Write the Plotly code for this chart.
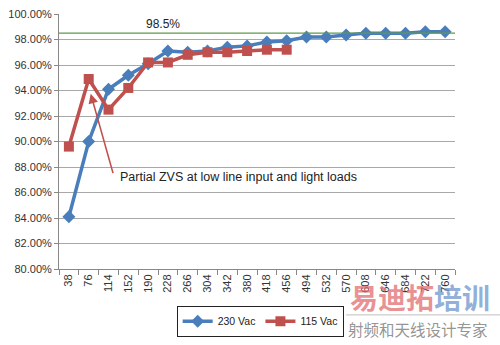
import plotly.graph_objects as go

# Output power levels (W)
power = [38, 76, 114, 152, 190, 228, 266, 304, 342, 380, 418, 456,
         494, 532, 570, 608, 646, 684, 722, 760]
power_labels = [str(p) for p in power]

# Efficiency (%) at high-line input
eff_230 = [84.1, 90.0, 94.1, 95.2, 96.1, 97.1, 97.0, 97.1, 97.4, 97.5, 97.8, 97.9,
           98.2, 98.2, 98.35, 98.5, 98.5, 98.5, 98.6, 98.6]
# Efficiency (%) at low-line input
eff_115 = [89.6, 94.9, 92.5, 94.2, 96.2, 96.2, 96.8, 97.0, 97.0, 97.1, 97.2, 97.2]

target_eff = 98.5
y_ticks = [80, 82, 84, 86, 88, 90, 92, 94, 96, 98, 100]
y_tick_text = ["%.2f%%" % v for v in y_ticks]

FONT = "Arial, Liberation Sans, sans-serif"

fig = go.Figure()
fig.add_trace(go.Scatter(
    x=power_labels, y=eff_230, name="230 Vac", mode="lines+markers",
    line=dict(color="#4a7ebb", width=3.5),
    marker=dict(symbol="diamond", size=10, color="#4a7ebb"),
))
fig.add_trace(go.Scatter(
    x=power_labels[:len(eff_115)], y=eff_115, name="115 Vac", mode="lines+markers",
    line=dict(color="#c0504d", width=3.5),
    marker=dict(symbol="square", size=10, color="#c0504d"),
))

# 98.5 % reference line
fig.add_shape(type="line", xref="paper", x0=0, x1=1, yref="y",
              y0=target_eff, y1=target_eff, line=dict(color="#5f9a4a", width=1.2))
fig.add_annotation(x=0.215, xref="paper", y=target_eff, yref="y", yshift=9,
                   text="98.5%", showarrow=False,
                   font=dict(family=FONT, size=12, color="#222"))

# Callout arrow for the light-load behaviour (tail near the note, head below the 76 W point)
fig.add_annotation(x=1.1, y=93.75, xref="x", yref="y",
                   ax=2.25, ay=87.4, axref="x", ayref="y",
                   text="", showarrow=True, arrowhead=2, arrowsize=1.2,
                   arrowwidth=1.6, arrowcolor="#c0504d")
fig.add_annotation(x=0.15, xref="paper", y=87.2, yref="y", xanchor="left",
                   text="Partial ZVS at low line input and light loads",
                   showarrow=False, font=dict(family=FONT, size=12.5, color="#222"))

# Axis unit label
fig.add_annotation(x=1.03, xref="paper", y=79.0, yref="y", xanchor="left",
                   text="Po/W", showarrow=False,
                   font=dict(family=FONT, size=12, color="#333"))

# Watermark
fig.add_annotation(x=0.73, xref="paper", y=-0.11, yref="paper",
                   xanchor="left", yanchor="middle", showarrow=False,
                   text="<b><span style='color:rgba(226,110,112,0.75)'>易迪拓</span>"
                        "<span style='color:rgba(110,150,205,0.75)'>培训</span></b>",
                   font=dict(family="Noto Sans CJK SC", size=28))
fig.add_shape(type="line", xref="paper", yref="paper", x0=0.725, x1=1.12,
              y0=-0.18, y1=-0.18, line=dict(color="rgba(150,150,150,0.6)", width=1))
fig.add_annotation(x=0.725, xref="paper", y=-0.237, yref="paper",
                   xanchor="left", yanchor="middle", showarrow=False,
                   text="射频和天线设计专家",
                   font=dict(family="Noto Sans CJK SC", size=15.5,
                             color="rgba(120,120,120,0.8)"))

fig.update_layout(
    width=500, height=345,
    margin=dict(l=55, r=45, t=8, b=69),
    paper_bgcolor="white", plot_bgcolor="white",
    font=dict(family=FONT, color="#333"),
    showlegend=True,
    legend=dict(orientation="h", x=0.508, y=-0.205, xanchor="center", yanchor="middle",
                bordercolor="#222", borderwidth=1, bgcolor="white",
                font=dict(family=FONT, size=10.5, color="#222"),
                itemwidth=30, tracegroupgap=0),
    xaxis=dict(type="category", range=[-0.5, len(power) - 0.5], autorange=False,
               tickson="boundaries", ticks="outside", ticklen=5,
               tickcolor="#888", tickangle=-90, showgrid=False,
               showline=True, linecolor="#888", linewidth=1,
               tickfont=dict(family=FONT, size=11, color="#333")),
    yaxis=dict(range=[80, 100], autorange=False, tickvals=y_ticks, ticktext=y_tick_text,
               showgrid=True, gridcolor="#a8a8a8", gridwidth=1,
               ticks="outside", ticklen=4, tickcolor="#888",
               showline=True, linecolor="#888", linewidth=1, zeroline=False,
               tickfont=dict(family=FONT, size=11, color="#333")),
)

fig.write_html("out.html")
